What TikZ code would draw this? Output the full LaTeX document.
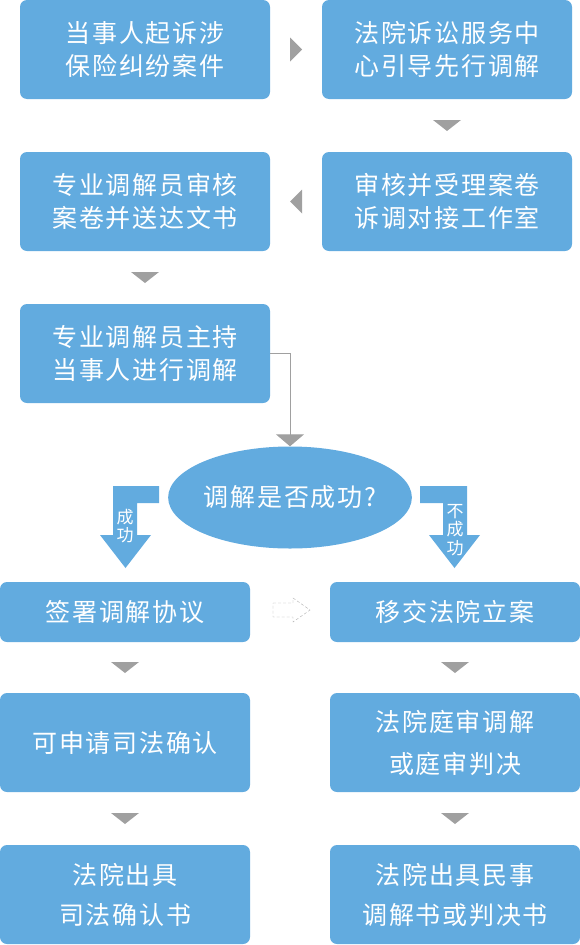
\documentclass[tikz,border=0pt]{standalone}
\usepackage{fontspec}
\newfontfamily\cjk[LetterSpace=7]{Noto Sans CJK SC}
\newfontfamily\cjksmall{Noto Sans CJK SC}
\usetikzlibrary{arrows.meta,shapes.geometric,calc}
\definecolor{boxblue}{RGB}{98,171,223}
\definecolor{trigray}{RGB}{160,160,160}
\definecolor{dashgray}{RGB}{175,175,175}
\tikzset{
  stepbox/.style={rectangle, rounded corners=7pt, fill=boxblue, text=white,
    minimum width=250pt, minimum height=99pt, inner sep=0pt, align=center,
    font=\cjk\fontsize{25}{33}\selectfont},
  flatbox/.style={stepbox, minimum height=60pt},
  askbox/.style={ellipse, fill=boxblue, text=white, minimum width=242pt,
    minimum height=102pt, inner sep=0pt, font=\cjk\fontsize{25}{33}\selectfont},
  flowtext/.style={text=white, align=center, inner sep=0pt,
    font=\cjksmall\fontsize{17}{18.5}\selectfont}
}
\begin{document}
\begin{tikzpicture}[x=1pt,y=-1pt]
\useasboundingbox (0,0) rectangle (580,945);
% boxes
\node[stepbox] (b1) at (145,49.5) {当事人起诉涉\\保险纠纷案件};
\node[stepbox] (b2) at (447,49.5) {法院诉讼服务中\\心引导先行调解};
\node[stepbox] (b3) at (447,201.5) {审核并受理案卷\\诉调对接工作室};
\node[stepbox] (b4) at (145,201.5) {专业调解员审核\\案卷并送达文书};
\node[stepbox] (b5) at (145,353.5) {专业调解员主持\\当事人进行调解};
\node[askbox] (q) at (290,497.5) {调解是否成功?};
\node[flatbox] (b6) at (125,612) {签署调解协议};
\node[flatbox] (b7) at (455,612) {移交法院立案};
\node[stepbox] (b8) at (125,742.5) {可申请司法确认};
\node[stepbox, font=\cjk\fontsize{25}{42}\selectfont] (b9) at (455,742.5) {法院庭审调解\\或庭审判决};
\node[stepbox, font=\cjk\fontsize{25}{40}\selectfont] (b10) at (125,894.5) {法院出具\\司法确认书};
\node[stepbox, font=\cjk\fontsize{25}{40}\selectfont] (b11) at (455,894.5) {法院出具民事\\调解书或判决书};
% small triangles
\fill[trigray] ($(b1.east)!0.5!(b2.west)+(-6,-12)$) -- ++(12,12) -- ++(-12,12) -- cycle;
\fill[trigray] ($(b3.west)!0.5!(b4.east)+(6,-12)$) -- ++(-12,12) -- ++(12,12) -- cycle;
\foreach \a/\b in {b2/b3, b4/b5, b6/b8, b7/b9, b8/b10, b9/b11}
    \fill[trigray] ($(\a.south)!0.5!(\b.north)+(-14,-5.5)$) -- ++(28,0) -- ++(-14,11) -- cycle;
% connector to the question
\draw[trigray, line width=1pt, -{Triangle[width=28pt,length=12pt]}] (b5.east) -| (q.north);
% yes / no arrows
\fill[boxblue] (159,486) -- (113,486) -- (113,535) -- (100,535) -- (125.5,568)
    -- (151,535) -- (137,535) -- (137,503) -- (159,503) -- cycle;
\node[flowtext] (yes) at (125,526) {成\\功};
\fill[boxblue] (420,486) -- (467,486) -- (467,535) -- (480,535) -- (454.5,568)
    -- (429,535) -- (443,535) -- (443,503) -- (420,503) -- cycle;
\node[flowtext] (no) at (455,530) {不\\成\\功};
% dashed hint arrow
\draw[dashgray, dash pattern=on 3pt off 2pt] (273,603) -- (293,603) -- (293,598) -- (310,610)
    -- (293,622) -- (293,617) -- (273,617) -- cycle;
\end{tikzpicture}
\end{document}
